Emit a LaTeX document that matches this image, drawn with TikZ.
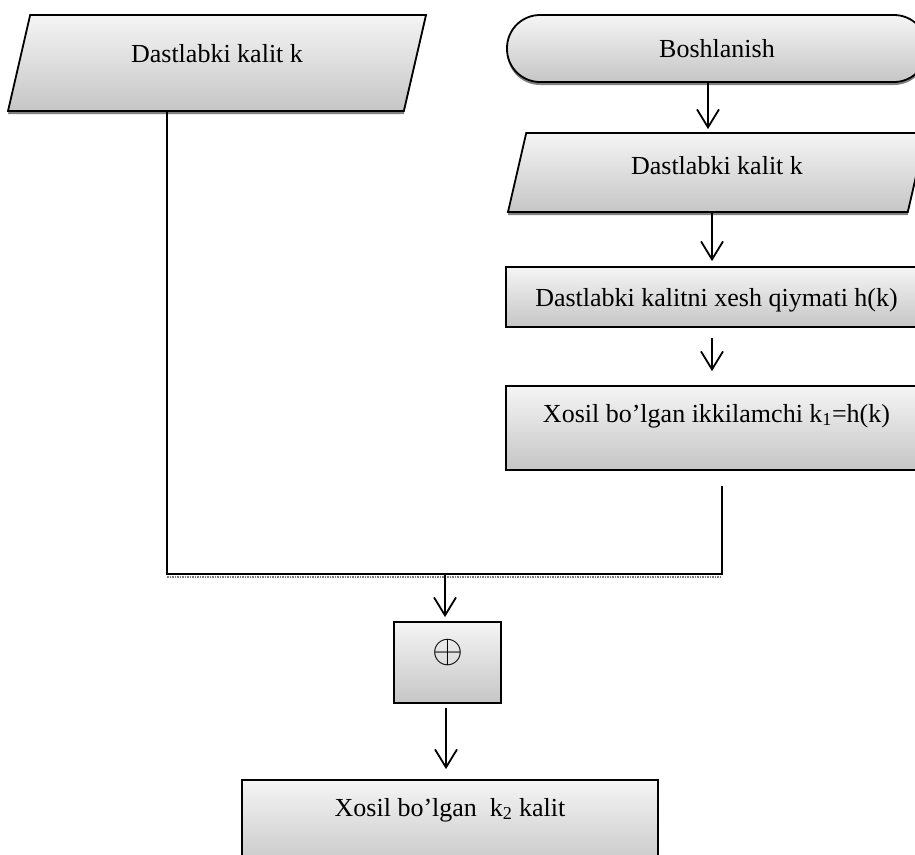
\documentclass[tikz,border=0pt]{standalone}
\usepackage{fontspec}
\setmainfont{Liberation Serif}
\usetikzlibrary{shapes.geometric,arrows.meta,shadows,positioning,calc}

\tikzset{
  flowbox/.style={draw, line width=1.8pt, inner sep=0pt,
    top color=gray!8, bottom color=gray!45,
    font=\fontsize{26}{31}\selectfont},
  inputbox/.style={flowbox, trapezium, trapezium left angle=77,
    trapezium right angle=103, trapezium stretches body},
  shadowed/.style={drop shadow={shadow xshift=0pt, shadow yshift=-3pt,
    fill=black!50, opacity=1}},
  flowarrow/.style={line width=1.8pt,
    -{Straight Barb[length=18pt,width=22pt,line width=1.8pt]}},
}

\begin{document}
\begin{tikzpicture}[x=1pt,y=-1pt]
  \useasboundingbox (0,0) rectangle (915,854);
  \clip (0,0) rectangle (915,854);

  % Blocks
  \node[inputbox, shadowed, minimum width=418pt, minimum height=96pt,
    text height=47pt, text depth=49pt] (key1) at (217,63) {Dastlabki kalit k};
  \node[flowbox, shadowed, rounded corners=33pt, minimum width=420pt,
    minimum height=67pt] (start) at (717,48.5) {Boshlanish};
  \node[inputbox, shadowed, minimum width=418pt, minimum height=79pt,
    text height=41pt, text depth=38pt] (key2) at (717,172.5) {Dastlabki kalit k};
  \node[flowbox, minimum width=421pt, minimum height=60pt,
    text height=39pt, text depth=21pt] (hash) at (716.5,297)
    {Dastlabki kalitni xesh qiymati h(k)};
  \node[flowbox, minimum width=421pt, minimum height=84pt,
    text height=36pt, text depth=48pt] (second) at (716.5,428)
    {Xosil bo’lgan ikkilamchi k\textsubscript{1}=h(k)};
  \node[flowbox, minimum width=107pt, minimum height=81pt,
    text height=40pt, text depth=41pt] (xor) at (447.5,662.5)
    {\scalebox{1.6}{$\oplus$}};
  \node[flowbox, minimum width=416pt, minimum height=90pt,
    text height=36pt, text depth=54pt] (result) at (450,825)
    {Xosil bo’lgan~ k\textsubscript{2} kalit};

  % Joining lines
  \coordinate (joinL) at (167,574);
  \coordinate (joinR) at (722,574);
  \coordinate (joinM) at (445,574);
  \draw[black!50, line width=1.5pt, densely dotted]
    ([yshift=-3pt]joinL) -- ([yshift=-3pt]joinR);
  \draw[line width=1.8pt] (key1.south -| joinL) -- (joinL) -- (joinR)
    -- ([yshift=-15pt]second.south -| joinR);

  % Arrows
  \foreach \from/\to/\dx/\gapa/\gapb in
    {start/key2/-9/0/3, key2/hash/-5/0/5, hash/second/-4.5/10/14, xor/result/-1.5/4/10}{
  \draw[flowarrow, shorten <=\gapa pt, shorten >=\gapb pt]
    ([xshift=\dx pt]\from.south) -- ([xshift=\dx pt]\from.south |- \to.north);
  }
  \draw[flowarrow, shorten >=4pt] (joinM) -- (joinM |- xor.north);
\end{tikzpicture}
\end{document}
